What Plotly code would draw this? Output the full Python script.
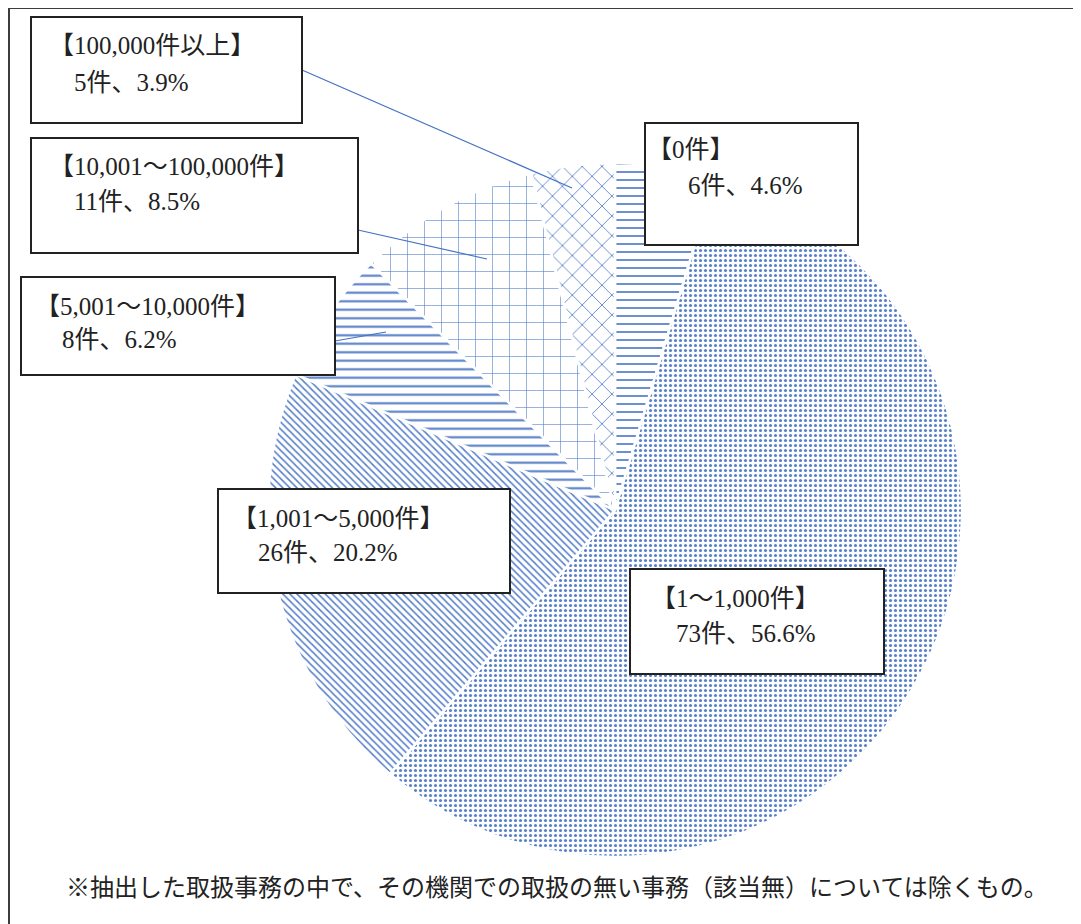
import plotly.graph_objects as go

W, H = 1081, 924
OFF = 8  # page body margin offset

categories = ["0件", "1〜1,000件", "1,001〜5,000件", "5,001〜10,000件", "10,001〜100,000件", "100,000件以上"]
counts = [6, 73, 26, 8, 11, 5]
percents = [4.6, 56.6, 20.2, 6.2, 8.5, 3.9]
footnote = "※抽出した取扱事務の中で、その機関での取扱の無い事務（該当無）については除くもの。"

# styles
BLUE = "#4472C4"
pat_shapes = ["-", ".", "\\", "-", "+", "x"]
pat_sizes = [8, 5, 5, 8.5, 17, 14]
pat_solid = [0.22, 0.3, 0.32, 0.25, 0.07, 0.12]


def px(x):
    return (x - OFF) / W


def py(y):
    return 1 - (y - OFF) / H


cx, cy, r = 615, 510, 347

fig = go.Figure(go.Pie(
    labels=categories,
    values=counts,
    sort=False,
    direction="clockwise",
    rotation=0,
    textinfo="none",
    hoverinfo="label+value+percent",
    showlegend=False,
    marker=dict(
        colors=["white"] * len(categories),
        line=dict(color="white", width=2.5),
        pattern=dict(shape=pat_shapes, size=pat_sizes, solidity=pat_solid,
                     fgcolor=BLUE, fgopacity=0.9, bgcolor="white", fillmode="overlay"),
    ),
    domain=dict(x=[px(cx - r), px(cx + r)], y=[py(cy + r), py(cy - r)]),
))

FONT = "Liberation Serif, Noto Sans CJK JP, serif"

# label boxes: (category index, box x0,y0,x1,y1, line1 x,y, line2 x,y, leader line)
boxes = [
    (5, (31, 17, 302, 123), (62, 46), (76, 82), ((302, 70), (572, 188))),
    (4, (31, 138, 358, 253), (62, 167), (76, 201), ((358, 230), (487, 259))),
    (3, (21, 277, 335, 375), (48, 306), (64, 340), ((335, 341), (386, 332))),
    (2, (218, 489, 510, 593), (245, 518), (260, 552), None),
    (0, (645, 123, 858, 245), (660, 150), (690, 186), None),
    (1, (630, 569, 884, 674), (664, 598), (678, 633), None),
]

shapes = []
annotations = []
for idx, (bx0, by0, bx1, by1), (l1x, l1y), (l2x, l2y), leader in boxes:
    if leader is not None:
        (ax, ay), (bx, by) = leader
        shapes.append(dict(type="line", xref="paper", yref="paper",
                           x0=px(ax), y0=py(ay), x1=px(bx), y1=py(by),
                           line=dict(color=BLUE, width=1.2)))
    shapes.append(dict(type="rect", xref="paper", yref="paper",
                       x0=px(bx0), y0=py(by1), x1=px(bx1), y1=py(by0),
                       fillcolor="white", line=dict(color="#222222", width=2)))
    annotations.append(dict(text=f"【{categories[idx]}】", xref="paper", yref="paper",
                            x=px(l1x - 15), y=py(l1y), xanchor="left", yanchor="middle",
                            showarrow=False, font=dict(family=FONT, size=25, color="#222222")))
    annotations.append(dict(text=f"{counts[idx]}件、{percents[idx]}%", xref="paper", yref="paper",
                            x=px(l2x - 4), y=py(l2y), xanchor="left", yanchor="middle",
                            showarrow=False, font=dict(family=FONT, size=25, color="#222222")))

# outer frame
shapes.append(dict(type="rect", xref="paper", yref="paper",
                   x0=px(9), y0=-0.05, x1=1.05, y1=py(8),
                   line=dict(color="#3c3c3c", width=2), fillcolor="rgba(0,0,0,0)"))

annotations.append(dict(text=footnote, xref="paper", yref="paper",
                        x=px(64), y=py(888), xanchor="left", yanchor="middle",
                        showarrow=False, font=dict(family=FONT, size=24, color="#222222")))

fig.update_layout(
    width=W, height=H,
    margin=dict(l=0, r=0, t=0, b=0),
    paper_bgcolor="white",
    plot_bgcolor="white",
    shapes=shapes,
    annotations=annotations,
)

fig.write_html("out.html")
